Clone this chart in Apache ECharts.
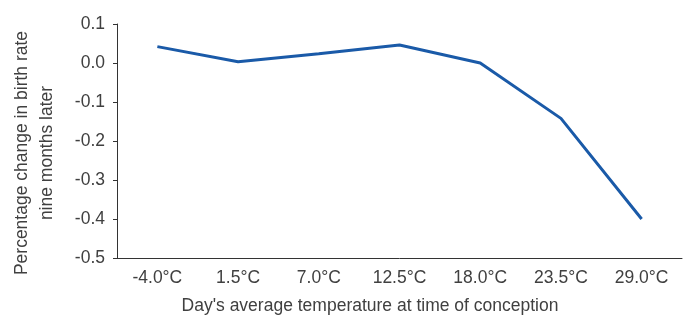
<!DOCTYPE html>
<html>
<head>
<meta charset="utf-8">
<script src="https://cdn.jsdelivr.net/npm/echarts@6/dist/echarts.min.js"></script>
<style>
  html, body { margin: 0; padding: 0; background: #fff; }
  #chart { width: 690px; height: 316px; }
</style>
</head>
<body>
<div id="chart"></div>
<script>
// temperature bins and birth-rate change
var categories = ['-4.0°C', '1.5°C', '7.0°C', '12.5°C', '18.0°C', '23.5°C', '29.0°C'];
var birthChange = [0.042, 0.003, 0.024, 0.046, 0.0, -0.142, -0.40];

var font = '"Liberation Sans", Arial, sans-serif';
var textColor = '#404040';

var chart = echarts.init(document.getElementById('chart'));
chart.setOption({
  animation: false,
  title: [{
    text: "Day's average temperature at time of conception",
    left: 365, top: 292, textAlign: 'center',
    textStyle: { fontFamily: font, fontSize: 17.5, fontWeight: 'normal', color: textColor }
  }],
  graphic: [{
    type: 'text',
    x: 35, y: 153, rotation: Math.PI / 2,
    style: {
      text: 'Percentage change in birth rate\nnine months later',
      font: '17.5px ' + font,
      fill: textColor,
      align: 'center',
      verticalAlign: 'middle',
      lineHeight: 25
    }
  }],
  grid: { left: 117, right: 8, top: 24, bottom: 58 },
  xAxis: {
    type: 'category',
    data: categories,
    boundaryGap: true,
    axisLine: { onZero: false, lineStyle: { color: '#333', width: 1 } },
    axisTick: { alignWithLabel: true, length: 4, lineStyle: { color: '#333' } },
    axisLabel: { margin: 11, fontFamily: font, fontSize: 17.5, color: textColor }
  },
  yAxis: {
    type: 'value',
    min: -0.5, max: 0.1, interval: 0.1,
    splitLine: { show: false },
    axisLine: { show: true, lineStyle: { color: '#333', width: 1 } },
    axisTick: { show: true, length: 4, lineStyle: { color: '#333' } },
    axisLabel: {
      margin: 12, fontFamily: font, fontSize: 17.5, color: textColor,
      formatter: function (v) { return v.toFixed(1); }
    }
  },
  series: [{
    type: 'line',
    data: birthChange,
    symbol: 'none',
    lineStyle: { color: '#1a5aa8', width: 3 }
  }]
});
</script>
</body>
</html>
